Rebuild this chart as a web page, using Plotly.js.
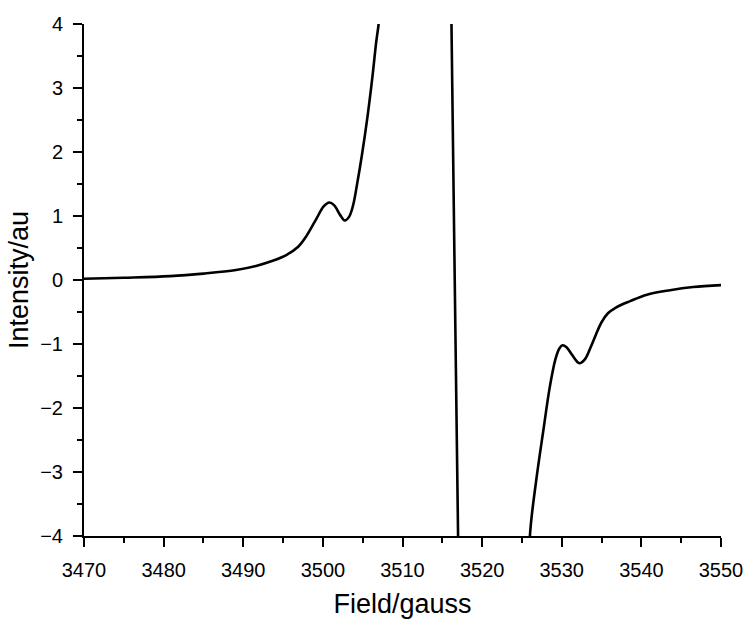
<!DOCTYPE html>
<html>
<head>
<meta charset="utf-8">
<script src="https://cdn.plot.ly/plotly-3.0.1.min.js"></script>
<style>html,body{margin:0;padding:0;background:#fff;}#chart{width:749px;height:619px;}</style>
</head>
<body>
<div id="chart"></div>
<script>
// Field (gauss) and intensity (a.u.)
var field = [3470, 3475, 3480.8, 3485, 3489.1, 3491.6, 3493.7, 3495.4, 3496.9, 3497.9, 3499.2, 3500.1, 3500.8, 3501.4, 3502.2, 3502.75, 3503.3, 3503.8, 3504.3, 3504.9, 3505.6, 3506.2, 3506.7, 3507.0, 3507.3, 3509, 3512, 3515, 3515.9, 3516.15, 3516.55, 3516.98, 3517.2, 3518.5, 3521.5, 3524.5, 3525.8, 3526.0, 3526.8, 3527.7, 3528.5, 3529.2, 3529.7, 3530.1, 3530.6, 3531.3, 3532.2, 3532.9, 3533.6, 3534.3, 3535.0, 3535.8, 3536.8, 3538.6, 3540.7, 3543.6, 3546.5, 3550];
var intensity = [0.02, 0.035, 0.06, 0.10, 0.156, 0.22, 0.30, 0.39, 0.52, 0.68, 0.96, 1.15, 1.21, 1.17, 1.01, 0.93, 0.99, 1.17, 1.50, 1.95, 2.55, 3.15, 3.72, 4.0, 4.5, 8, 16, 14, 6.4, 4.0, 0.1, -4.0, -6.2, -16, -20, -12, -5.5, -4.0, -3.125, -2.34, -1.67, -1.24, -1.07, -1.02, -1.05, -1.17, -1.30, -1.24, -1.06, -0.85, -0.66, -0.52, -0.43, -0.33, -0.23, -0.16, -0.11, -0.08];

var xTicks = [3470, 3480, 3490, 3500, 3510, 3520, 3530, 3540, 3550];
var yTicks = [-4, -3, -2, -1, 0, 1, 2, 3, 4];

var trace = {
  x: field,
  y: intensity,
  type: 'scatter',
  mode: 'lines',
  line: {color: '#000000', width: 2.6, shape: 'spline', smoothing: 1},
  hoverinfo: 'none'
};

var fontFam = '"Liberation Sans", Arial, Helvetica, sans-serif';

var layout = {
  width: 749,
  height: 619,
  margin: {l: 84, r: 28, t: 24, b: 83},
  paper_bgcolor: '#ffffff',
  plot_bgcolor: '#ffffff',
  showlegend: false,
  font: {family: fontFam, color: '#000000', size: 20},
  xaxis: {
    range: [3470, 3550],
    tickvals: xTicks,
    ticktext: xTicks.map(String),
    ticks: 'outside',
    ticklen: 9,
    tickwidth: 2,
    tickcolor: '#000000',
    showline: true,
    linewidth: 2,
    linecolor: '#000000',
    showgrid: false,
    zeroline: false,
    tickfont: {family: fontFam, size: 20, color: '#000000'},
    ticklabelstandoff: 6,
    minor: {ticks: 'outside', ticklen: 5, tickwidth: 2, tickcolor: '#000000', tickvals: [3475, 3485, 3495, 3505, 3515, 3525, 3535, 3545], showgrid: false},
    title: {text: 'Field/gauss', font: {family: fontFam, size: 27, color: '#000000'}, standoff: 14},
    automargin: false,
    fixedrange: true
  },
  yaxis: {
    range: [-4, 4],
    tickvals: yTicks,
    ticks: 'outside',
    ticklen: 9,
    tickwidth: 2,
    tickcolor: '#000000',
    showline: true,
    linewidth: 2,
    linecolor: '#000000',
    showgrid: false,
    zeroline: false,
    tickfont: {family: fontFam, size: 20, color: '#000000'},
    ticklabelstandoff: 6,
    minor: {ticks: 'outside', ticklen: 5, tickwidth: 2, tickcolor: '#000000', tickvals: [-3.5, -2.5, -1.5, -0.5, 0.5, 1.5, 2.5, 3.5], showgrid: false},
    title: {text: 'Intensity/au', font: {family: fontFam, size: 27, color: '#000000'}, standoff: 4},
    automargin: false,
    fixedrange: true
  }
};

Plotly.newPlot('chart', [trace], layout, {staticPlot: true, displayModeBar: false});
</script>
</body>
</html>
